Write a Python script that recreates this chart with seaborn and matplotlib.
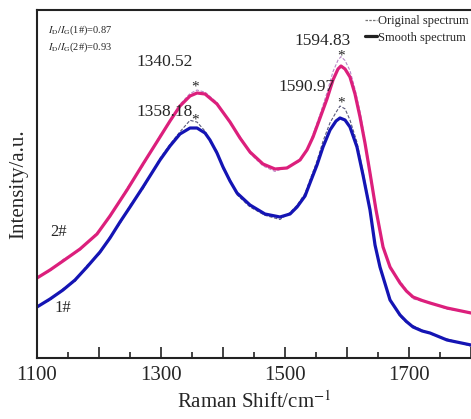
import numpy as np
import pandas as pd
import matplotlib
matplotlib.use("Agg")
import matplotlib.pyplot as plt
from matplotlib.lines import Line2D
import seaborn as sns

# 2# sample (upper curve): Raman shift (cm-1), smoothed and original intensity
shift_2 = [1100.0, 1121.0, 1141.9, 1169.4, 1196.8, 1217.7, 1245.2, 1271.0, 1298.4,
           1314.5, 1330.6, 1346.8, 1358.1, 1371.0, 1390.3, 1411.3, 1427.4, 1443.5,
           1464.5, 1483.9, 1503.2, 1524.2, 1535.5, 1545.2, 1556.5, 1567.7, 1577.4,
           1585.5, 1590.3, 1596.8, 1604.8, 1612.9, 1621.0, 1629.0, 1637.1, 1646.8,
           1658.1, 1669.4, 1685.5, 1695.8, 1706.5, 1721.3, 1733.9, 1761.3, 1800.0]
smooth_2 = [22.99, 25.29, 27.87, 31.32, 35.63, 40.80, 48.28, 55.75, 63.51,
            68.10, 72.41, 75.29, 76.15, 75.86, 72.99, 67.82, 63.22, 59.20,
            55.75, 54.31, 54.60, 56.90, 59.80, 63.51, 68.97, 74.43, 79.89,
            83.05, 83.91, 83.05, 80.75, 75.86, 69.25, 61.78, 53.16, 42.53,
            31.90, 26.15, 21.55, 19.25, 17.53, 16.52, 15.80, 14.37, 12.93]
orig_2 = [23.2, 25.0, 28.3, 31.0, 36.0, 40.5, 48.8, 55.3, 64.0,
          67.7, 72.9, 76.0, 77.0, 76.4, 73.4, 67.4, 63.7, 58.8,
          55.2, 53.6, 54.9, 56.5, 59.8, 64.3, 70.0, 76.2, 82.3,
          85.6, 86.6, 85.5, 82.6, 77.3, 70.8, 62.6, 54.0, 43.3,
          32.6, 25.6, 22.1, 19.6, 17.0, 16.3, 16.0, 14.0, 13.2]

# 1# sample (lower curve)
shift_1 = [1100.0, 1121.0, 1141.9, 1161.3, 1180.6, 1201.6, 1217.7, 1233.9, 1250.0,
           1271.0, 1298.4, 1314.5, 1330.6, 1346.8, 1358.1, 1371.0, 1379.0, 1390.3,
           1400.0, 1411.3, 1422.6, 1443.5, 1467.7, 1491.9, 1508.1, 1519.4, 1532.3,
           1540.3, 1551.6, 1561.3, 1572.6, 1582.3, 1588.7, 1596.8, 1604.8, 1616.1,
           1625.8, 1637.1, 1645.2, 1653.2, 1669.4, 1685.5, 1695.8, 1706.5, 1721.3,
           1733.9, 1761.3, 1800.0]
smooth_1 = [14.66, 16.95, 19.54, 22.41, 26.15, 30.46, 34.48, 39.08, 43.39,
            49.14, 56.90, 60.92, 64.37, 66.09, 66.09, 64.66, 62.64, 58.91,
            54.89, 50.86, 47.41, 43.97, 41.38, 40.52, 41.38, 43.39, 46.55,
            50.29, 55.46, 60.63, 65.52, 68.10, 68.97, 68.39, 66.38, 60.63,
            52.59, 42.53, 32.47, 26.15, 16.67, 12.36, 10.49, 8.91, 7.76,
            7.18, 5.17, 3.74]
orig_1 = [14.9, 16.6, 19.9, 22.0, 26.6, 30.0, 34.9, 38.6, 43.9,
          48.6, 57.4, 61.4, 65.0, 68.3, 67.8, 65.2, 62.2, 59.4,
          54.4, 51.3, 46.9, 43.4, 41.0, 39.8, 41.8, 43.9, 47.3,
          51.2, 56.6, 62.3, 67.6, 70.6, 72.4, 71.6, 68.4, 62.0,
          53.5, 43.2, 33.0, 25.6, 16.9, 12.0, 10.2, 9.3, 8.0,
          6.9, 5.5, 3.4]

df2 = pd.DataFrame({"shift": shift_2, "smooth": smooth_2, "orig": orig_2})
df1 = pd.DataFrame({"shift": shift_1, "smooth": smooth_1, "orig": orig_1})

sns.set_style("ticks")
plt.rcParams["font.family"] = ["Liberation Serif", "DejaVu Serif"]
plt.rcParams["mathtext.fontset"] = "stix"

fig = plt.figure(figsize=(4.71, 4.19), dpi=100)
ax = fig.add_axes([37 / 471, 61 / 419, 1 - 37 / 471, 348 / 419])

pink = "#dc1f7c"
blue = "#1414b4"

sns.lineplot(data=df2, x="shift", y="orig", ax=ax, color="#b888c8", lw=0.8,
             linestyle=(0, (3, 1.5)))
sns.lineplot(data=df1, x="shift", y="orig", ax=ax, color="#5a5a7a", lw=0.8,
             linestyle=(0, (3, 1.5)))
sns.lineplot(data=df2, x="shift", y="smooth", ax=ax, color=pink, lw=2.3)
sns.lineplot(data=df1, x="shift", y="smooth", ax=ax, color=blue, lw=2.3)

ax.set_xlim(1100, 1800)
ax.set_ylim(0, 100)

ax.set_xticks(np.arange(1100, 1801, 100))
ax.set_xticklabels(["1100", "", "1300", "", "1500", "", "1700", ""], fontsize=15)
ax.set_xticks(np.arange(1150, 1800, 100), minor=True)
ax.tick_params(axis="x", which="major", direction="in", length=8, width=1.2,
               pad=6, color="#222222")
ax.tick_params(axis="x", which="minor", direction="in", length=4, width=1.2,
               color="#222222")
ax.set_yticks([])
ax.spines["right"].set_visible(False)
for s in ["left", "bottom", "top"]:
    ax.spines[s].set_linewidth(1.5)
    ax.spines[s].set_color("#222222")

ax.set_xlabel("Raman Shift/cm$^{-1}$", fontsize=15, labelpad=4)
ax.set_ylabel("Intensity/a.u.", fontsize=15, labelpad=6)

# peak labels and markers
ax.text(1306, 85.1, "1340.52", fontsize=12.5, ha="center", va="center")
ax.text(1305, 70.7, "1358.18", fontsize=12.5, ha="center", va="center")
ax.text(1561, 91.1, "1594.83", fontsize=12.5, ha="center", va="center")
ax.text(1535, 77.9, "1590.97", fontsize=12.5, ha="center", va="center")
for sx, sy in [(1355, 78.0), (1355, 68.5), (1590, 86.8), (1590, 73.3)]:
    ax.text(sx, sy, "*", fontsize=11, ha="center", va="center")

ax.text(1134, 36.2, "2#", fontsize=12, ha="center", va="center")
ax.text(1142, 14.4, "1#", fontsize=12, ha="center", va="center")

ax.text(1118, 94.3, r"$I_{\rm D}/I_{\rm G}$(1#)=0.87", fontsize=7.5, va="center")
ax.text(1118, 89.4, r"$I_{\rm D}/I_{\rm G}$(2#)=0.93", fontsize=7.5, va="center")

handles = [Line2D([], [], color="#777777", lw=0.9, linestyle=(0, (2, 1))),
           Line2D([], [], color="#222222", lw=2.3)]
fig.legend(handles, ["Original spectrum", "Smooth spectrum"], loc="upper left",
           bbox_to_anchor=(0.765, 0.975), frameon=False, fontsize=9,
           handlelength=0.9, handletextpad=0.1, labelspacing=0.35,
           borderaxespad=0)

fig.savefig("out.png", dpi=100)
